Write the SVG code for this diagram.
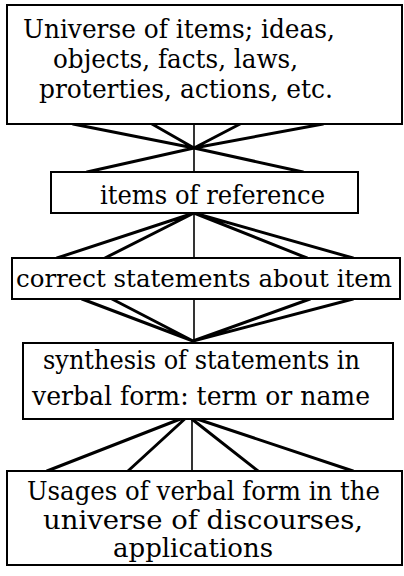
<svg xmlns="http://www.w3.org/2000/svg" width="404" height="576" viewBox="0 0 404 576">
<style>
.box{fill:#fff;stroke:#000;stroke-width:2}
.t{font-family:'DejaVu Serif','Liberation Serif',serif;font-size:26px;fill:#000}
.s{font-size:24px}
.c{stroke:#000;stroke-width:3;stroke-linecap:round;fill:none}
.v{stroke:#000;stroke-width:1.6;fill:none}
</style>
<rect width="404" height="576" fill="#fff"/>
<g id="connectors">
<path class="c" d="M73 124L194 148M152 124L194 148M240 124L194 148M323 124L194 148M194 148L87 172M194 148L303 172"/>
<path class="v" d="M194 124V172"/>
<path class="c" d="M194 213L57 258M194 213L105 258M194 213L307 258M194 213L353 258"/>
<path class="v" d="M194 213V258"/>
<path class="c" d="M82 299L193 341M112 299L193 341M310 299L193 341M353 299L193 341"/>
<path class="v" d="M194 299V342"/>
<path class="c" d="M188 416L47 471M188 416L128 471M188 416L258 471M188 416L353 471"/>
<path class="v" d="M192 418V471"/>
</g>
<g id="node1">
<rect class="box" x="7" y="5" width="395" height="119"/>
<text class="t" x="23" y="38" textLength="312" lengthAdjust="spacingAndGlyphs">Universe of items; ideas,</text>
<text class="t" x="53" y="68" textLength="245" lengthAdjust="spacingAndGlyphs">objects, facts, laws,</text>
<text class="t" x="39" y="98" textLength="294" lengthAdjust="spacingAndGlyphs">proterties, actions, etc.</text>
</g>
<g id="node2">
<rect class="box" x="51" y="172" width="307" height="41"/>
<text class="t" x="100" y="204" textLength="225" lengthAdjust="spacingAndGlyphs">items of reference</text>
</g>
<g id="node3">
<rect class="box" x="12" y="258" width="388" height="41"/>
<text class="t s" x="16" y="287" textLength="376" lengthAdjust="spacingAndGlyphs">correct statements about item</text>
</g>
<g id="node4">
<rect class="box" x="23" y="343" width="370" height="76"/>
<text class="t" x="43" y="369" textLength="317" lengthAdjust="spacingAndGlyphs">synthesis of statements in</text>
<text class="t" x="32" y="405" textLength="338" lengthAdjust="spacingAndGlyphs">verbal form: term or name</text>
</g>
<g id="node5">
<rect class="box" x="7" y="471" width="395" height="94"/>
<text class="t" x="27" y="500" textLength="353" lengthAdjust="spacingAndGlyphs">Usages of verbal form in the</text>
<text class="t" x="43" y="529" textLength="320" lengthAdjust="spacingAndGlyphs">universe of discourses,</text>
<text class="t" x="113" y="557" textLength="160" lengthAdjust="spacingAndGlyphs">applications</text>
</g>
</svg>
